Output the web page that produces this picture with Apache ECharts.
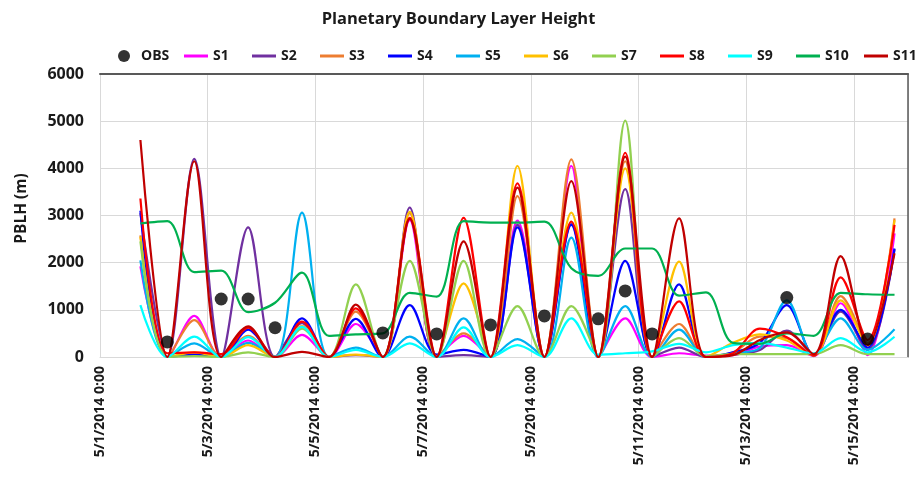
<!DOCTYPE html>
<html>
<head>
<meta charset="utf-8">
<script src="https://cdn.jsdelivr.net/npm/echarts@6/dist/echarts.min.js"></script>
<style>
  html, body { margin: 0; padding: 0; background: #fff; }
  #chart { width: 917px; height: 484px; }
</style>
</head>
<body>
<div id="chart"></div>
<script>
// Axis tick labels (every two days)
const tickLabels = ['5/1/2014 0:00', '5/3/2014 0:00', '5/5/2014 0:00', '5/7/2014 0:00',
  '5/9/2014 0:00', '5/11/2014 0:00', '5/13/2014 0:00', '5/15/2014 0:00'];

// Model output times (12-hourly)
const times = [
  '2014-05-01T18:00', '2014-05-02T06:00', '2014-05-02T18:00', '2014-05-03T06:00',
  '2014-05-03T18:00', '2014-05-04T06:00', '2014-05-04T18:00', '2014-05-05T06:00',
  '2014-05-05T18:00', '2014-05-06T06:00', '2014-05-06T18:00', '2014-05-07T06:00',
  '2014-05-07T18:00', '2014-05-08T06:00', '2014-05-08T18:00', '2014-05-09T06:00',
  '2014-05-09T18:00', '2014-05-10T06:00', '2014-05-10T18:00', '2014-05-11T06:00',
  '2014-05-11T18:00', '2014-05-12T06:00', '2014-05-12T18:00', '2014-05-13T06:00',
  '2014-05-13T18:00', '2014-05-14T06:00', '2014-05-14T18:00', '2014-05-15T06:00',
  '2014-05-15T18:00'
];

// Observed PBLH (m)
const obsTimes = ['2014-05-02T06:00', '2014-05-03T06:00', '2014-05-03T18:00', '2014-05-04T06:00',
  '2014-05-06T06:00', '2014-05-07T06:00', '2014-05-08T06:00', '2014-05-09T06:00',
  '2014-05-10T06:00', '2014-05-10T18:00', '2014-05-11T06:00', '2014-05-13T18:00',
  '2014-05-15T06:00'];
const obsValues = [320, 1230, 1230, 620, 510, 490, 680, 870, 810, 1400, 490, 1260, 380];

// Simulated PBLH (m), one array per run
const S1 = [1920, 0, 870, 0, 350, 0, 470, 0, 700, 0, 2900, 0, 450, 0, 2890, 0, 4050, 0, 820, 0, 80, 30, 40, 220, 250, 20, 1140, 40, 2620];
const S2 = [3050, 0, 4200, 0, 2750, 0, 720, 0, 40, 0, 3170, 0, 40, 0, 2800, 0, 2820, 0, 3560, 0, 200, 0, 50, 150, 560, 50, 960, 150, 2280];
const S3 = [2580, 0, 780, 0, 450, 0, 650, 0, 960, 0, 3050, 0, 500, 0, 3410, 0, 4190, 0, 4150, 0, 700, 0, 100, 430, 400, 30, 1290, 300, 2940];
const S4 = [3100, 0, 50, 0, 580, 0, 820, 0, 810, 0, 1100, 50, 150, 0, 2750, 0, 2800, 0, 2040, 0, 1540, 0, 100, 300, 1100, 30, 1000, 200, 2300];
const S5 = [2050, 0, 290, 0, 300, 0, 3060, 0, 200, 0, 430, 0, 820, 0, 380, 0, 2530, 0, 1080, 0, 580, 0, 80, 190, 1200, 40, 820, 150, 590];
const S6 = [2550, 0, 100, 0, 250, 0, 650, 0, 50, 0, 3080, 0, 1560, 0, 4050, 0, 3060, 0, 4000, 0, 2020, 0, 300, 480, 350, 30, 1200, 250, 2900];
const S7 = [2450, 0, 20, 0, 100, 0, 600, 0, 1540, 0, 2040, 0, 2040, 0, 1080, 0, 1080, 0, 5010, 0, 400, 20, 60, 60, 60, 60, 250, 60, 60];
const S8 = [3360, 80, 100, 60, 620, 0, 750, 0, 1030, 0, 2950, 0, 2950, 0, 3680, 0, 2870, 0, 4330, 0, 1180, 0, 80, 600, 420, 30, 1690, 360, 2800];
const S9 = [1100, 0, 430, 0, 420, 0, 640, 0, 150, 0, 290, 0, 630, 0, 250, 0, 820, 50, 80, 120, 280, 100, 250, 300, 200, 80, 400, 100, 430];
const S10 = [2830, 2880, 1800, 1830, 950, 1150, 1790, 450, 480, 500, 1360, 1280, 2880, 2850, 2850, 2870, 1880, 1720, 2300, 2300, 1300, 1370, 300, 280, 500, 450, 1360, 1330, 1320];
const S11 = [4600, 0, 4150, 0, 650, 0, 110, 0, 1110, 0, 2930, 0, 2450, 0, 3590, 0, 3730, 0, 4250, 0, 2940, 0, 40, 360, 520, 60, 2140, 250, 2200];

const runNames = ['S1', 'S2', 'S3', 'S4', 'S5', 'S6', 'S7', 'S8', 'S9', 'S10', 'S11'];
const runValues = [S1, S2, S3, S4, S5, S6, S7, S8, S9, S10, S11];
const runColors = ['#FF00FF', '#7030A0', '#ED7D31', '#0000FF', '#00B0F0', '#FFC000',
  '#92D050', '#FF0000', '#00FFFF', '#00B050', '#C00000'];

// Days elapsed since 5/1/2014 0:00
const t0 = Date.parse('2014-05-01T00:00Z');
const dayOffset = s => (Date.parse(s + 'Z') - t0) / 864e5;

const FONT = '"Open Sans", "Liberation Sans", sans-serif';
const TEXT = '#1a1a1a';
const GRID = '#d9d9d9';
const FRAME = '#595959';

const series = [{
  name: 'OBS',
  type: 'scatter',
  z: 5,
  symbol: 'circle',
  symbolSize: 13,
  itemStyle: { color: '#000' },
  data: obsTimes.map((t, i) => [dayOffset(t), obsValues[i]])
}].concat(runNames.map((name, j) => ({
  name,
  type: 'line',
  smooth: 0.33,
  symbol: 'none',
  color: runColors[j],
  lineStyle: { width: 2.2, color: runColors[j] },
  data: times.map((t, i) => [dayOffset(t), runValues[j][i]])
})));

// Legend: one entry per slot so every entry gets the same width
const legendTextStyle = { fontFamily: FONT, fontSize: 14, fontWeight: 'bold', color: TEXT };
const LEGEND_TOP = 49;
const legends = [{
  left: 118, top: LEGEND_TOP, padding: 0, itemWidth: 24, itemHeight: 12, icon: 'circle',
  textStyle: legendTextStyle, data: ['OBS']
}].concat(runNames.map((name, j) => ({
  left: 184 + 68 * j, top: LEGEND_TOP, padding: 0, itemWidth: 24, itemHeight: 3,
  icon: 'path://M0,0 L24,0 L24,3 L0,3 Z',
  textStyle: legendTextStyle, data: [name]
})));

const chart = echarts.init(document.getElementById('chart'), null, { renderer: 'canvas' });
chart.setOption({
  animation: false,
  backgroundColor: '#fff',
  title: {
    text: 'Planetary Boundary Layer Height',
    left: 'center',
    top: 6,
    textStyle: { fontFamily: FONT, fontSize: 16.5, fontWeight: 'bold', color: TEXT }
  },
  legend: legends,
  grid: { left: 100, right: 9, top: 74, bottom: 127 },
  xAxis: [{
    type: 'value',
    min: 0,
    max: 15,
    interval: 2,
    axisLine: { show: true, lineStyle: { color: GRID, width: 1 } },
    axisTick: { show: false },
    splitLine: { show: true, lineStyle: { color: GRID, width: 1 } },
    axisLabel: {
      rotate: 90,
      margin: 9,
      fontFamily: FONT,
      fontSize: 14,
      fontWeight: 'bold',
      color: TEXT,
      formatter: v => (v % 2 === 0 && tickLabels[v / 2]) ? tickLabels[v / 2] : ''
    }
  }, {
    type: 'value',
    position: 'top',
    min: 0,
    max: 15,
    axisLine: { show: true, onZero: false, lineStyle: { color: FRAME, width: 2 } },
    axisTick: { show: false },
    axisLabel: { show: false },
    splitLine: { show: false }
  }],
  yAxis: [{
    type: 'value',
    min: 0,
    max: 6000,
    interval: 1000,
    name: 'PBLH (m)',
    nameLocation: 'middle',
    nameGap: 70,
    nameTextStyle: { fontFamily: FONT, fontSize: 15.5, fontWeight: 'bold', color: TEXT, padding: [0, 0, 0, 14] },
    axisLine: { show: false },
    axisTick: { show: false },
    splitLine: { show: true, lineStyle: { color: GRID, width: 1 } },
    axisLabel: {
      margin: 16, fontFamily: FONT, fontSize: 16, fontWeight: 'bold', color: TEXT,
      formatter: v => String(v)
    }
  }, {
    type: 'value',
    position: 'right',
    min: 0,
    max: 6000,
    axisLine: { show: true, onZero: false, lineStyle: { color: FRAME, width: 1.5 } },
    axisTick: { show: false },
    axisLabel: { show: false },
    splitLine: { show: false }
  }],
  series
});
</script>
</body>
</html>
